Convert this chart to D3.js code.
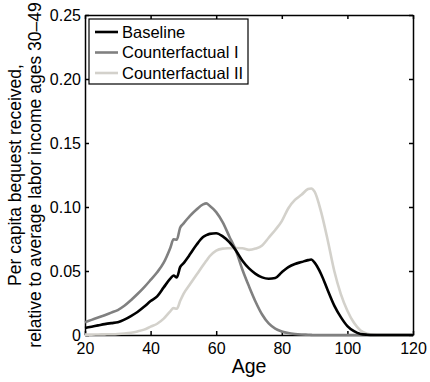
<!DOCTYPE html>
<html>
<head>
<meta charset="utf-8">
<script src="https://cdn.jsdelivr.net/npm/d3@7"></script>
<style>
  html, body { margin: 0; padding: 0; background: #fff; }
  svg { display: block; font-family: "Liberation Sans", Arial, Helvetica, sans-serif; }
  .axis text { font-size: 16px; fill: #000; }
  .axis path, .axis line { stroke: #000; stroke-width: 1.5; }
</style>
</head>
<body>
<svg id="chart" width="430" height="382"></svg>
<script>
// age grid shared by all three series
const ages = [20, 22, 24, 26, 28, 30, 32, 34, 36, 38, 40, 42, 44, 46, 47, 48, 49, 50, 52, 54,
  56, 57, 58, 60, 62, 64, 66, 68, 70, 72, 74, 76, 78, 80, 82, 84, 86, 88, 89, 90,
  92, 94, 96, 98, 100, 102, 104, 106, 108, 110, 120];

const baseline = [.0055, .0065, .0075, .0085, .0093, .0100, .0120, .0148, .0180, .0220, .0265, .0302, .0372, .0440, .0465, .0450, .0530, .0560, .0630, .0705,
  .0765, .0780, .0790, .0795, .0770, .0725, .0660, .0580, .0520, .0478, .0450, .0440, .0445, .0490, .0530, .0555, .0570, .0585, .0590, .0565,
  .0475, .0350, .0230, .0140, .0070, .0030, .0008, .0002, 0, 0, 0];

const counterfactual1 = [.0100, .0118, .0136, .0155, .0175, .0195, .0228, .0272, .0320, .0372, .0430, .0490, .0565, .0680, .0748, .0745, .0838, .0870, .0930, .0980,
  .1020, .1028, .1010, .0960, .0880, .0770, .0660, .0510, .0380, .0260, .0160, .0090, .0050, .0028, .0015, .0008, .0004, .0002, .0001, 0,
  0, 0, 0, 0, 0, 0, 0, 0, 0, 0, 0];

const counterfactual2 = [.0003, .0003, .0004, .0005, .0006, .0008, .0012, .0018, .0028, .0042, .0065, .0088, .0128, .0185, .0210, .0205, .0265, .0320, .0396, .0470,
  .0545, .0580, .0615, .0660, .0675, .0678, .0680, .0678, .0665, .0675, .0700, .0760, .0820, .0890, .0990, .1055, .1095, .1140, .1145, .1120,
  .0960, .0740, .0500, .0320, .0190, .0095, .0035, .0010, .0002, 0, 0];

const seriesNames = ["Baseline", "Counterfactual I", "Counterfactual II"];
const seriesColors = ["#000000", "#808080", "#d3d1cb"];
const xTicks = [20, 40, 60, 80, 100, 120];
const yTicks = [0, 0.05, 0.10, 0.15, 0.20, 0.25];

const svg = d3.select("#chart");
const plotL = 85, plotR = 413, plotT = 15, plotB = 335;

const x = d3.scaleLinear().domain([20, 120]).range([plotL, plotR]);
const y = d3.scaleLinear().domain([0, 0.25]).range([plotB, plotT]);

// box ticks on top and right (no labels)
svg.append("g").attr("class", "axis")
  .attr("transform", "translate(0," + plotT + ")")
  .call(d3.axisTop(x).tickValues(xTicks).tickSizeInner(-4).tickSizeOuter(0).tickFormat(""));
svg.append("g").attr("class", "axis")
  .attr("transform", "translate(" + plotR + ",0)")
  .call(d3.axisRight(y).tickValues(yTicks).tickSizeInner(-4).tickSizeOuter(0).tickFormat(""));

// bottom & left axes with labels
svg.append("g").attr("class", "axis")
  .attr("transform", "translate(0," + plotB + ")")
  .call(d3.axisBottom(x).tickValues(xTicks).tickSizeInner(-4).tickSizeOuter(0).tickPadding(8)
    .tickFormat(d3.format("d")));
svg.append("g").attr("class", "axis")
  .attr("transform", "translate(" + plotL + ",0)")
  .call(d3.axisLeft(y).tickValues(yTicks).tickSizeInner(-4).tickSizeOuter(0).tickPadding(4)
    .tickFormat(function(d) { return d === 0 ? "0" : d3.format(".2f")(d); }));

// curves
const allSeries = [baseline, counterfactual1, counterfactual2];
const line = d3.line()
  .curve(d3.curveMonotoneX)
  .x(function(d) { return x(d[0]); })
  .y(function(d) { return y(d[1]); });

// draw light ones first so baseline sits on top
[2, 1, 0].forEach(function(i) {
  svg.append("path")
    .datum(ages.map(function(a, j) { return [a, allSeries[i][j]]; }))
    .attr("fill", "none")
    .attr("stroke", seriesColors[i])
    .attr("stroke-width", 2.6)
    .attr("stroke-linejoin", "round")
    .attr("d", line);
});

// axis titles
svg.append("text")
  .attr("x", (plotL + plotR) / 2).attr("y", 373)
  .attr("text-anchor", "middle")
  .style("font-size", "19.5px")
  .text("Age");

const yLab = svg.append("text")
  .attr("transform", "translate(0," + ((plotT + plotB) / 2) + ") rotate(-90)")
  .attr("text-anchor", "middle")
  .style("font-size", "17.5px");
yLab.append("tspan").attr("x", 0).attr("y", 21).text("Per capita bequest received,");
yLab.append("tspan").attr("x", 0).attr("y", 41).text("relative to average labor income ages 30\u201349");

// legend
const legend = svg.append("g");
legend.append("rect")
  .attr("x", 89).attr("y", 19).attr("width", 159).attr("height", 65)
  .attr("fill", "#fff").attr("stroke", "#000").attr("stroke-width", 1.2);

seriesNames.forEach(function(name, i) {
  const cy = 32 + i * 20.5;
  legend.append("line")
    .attr("x1", 95).attr("x2", 118).attr("y1", cy).attr("y2", cy)
    .attr("stroke", seriesColors[i]).attr("stroke-width", 2.6);
  legend.append("text")
    .attr("x", 122).attr("y", cy).attr("dy", "0.36em")
    .style("font-size", "16.5px")
    .text(name);
});
</script>
</body>
</html>
